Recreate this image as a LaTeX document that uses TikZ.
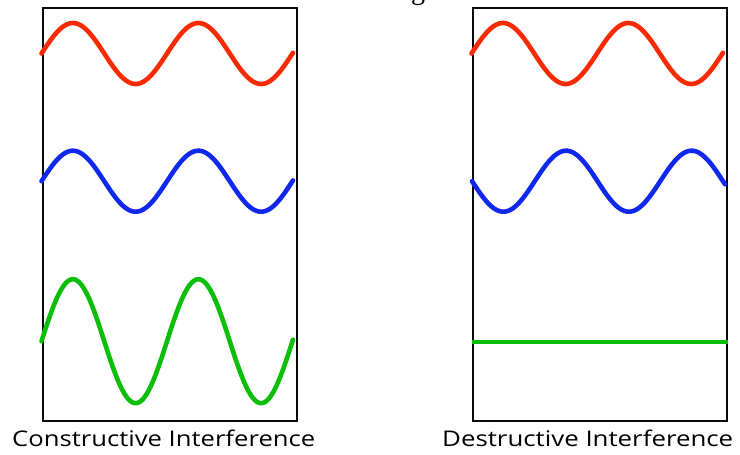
\documentclass[tikz,border=0pt]{standalone}
\usepackage{fontspec}
\setmainfont{Open Sans}
\newfontfamily\serifg{Liberation Serif}
\definecolor{wred}{RGB}{250,42,0}
\definecolor{wblue}{RGB}{16,40,238}
\definecolor{wgreen}{RGB}{10,190,10}
\definecolor{boxc}{RGB}{10,10,10}
\tikzset{
  panel/.style={draw=boxc, line width=1.7pt},
  wave/.style={line width=4.6pt, line cap=round, line join=round},
  lbl/.style={inner sep=0pt, anchor=base west},
}
\begin{document}
\begin{tikzpicture}[x=1pt,y=-1pt]
\useasboundingbox (0,0) rectangle (740,455);
% title fragment (cut off at the top edge, as in the reference)
\node[inner sep=0pt, anchor=base] (title) at (418,-1) {\serifg\fontsize{28}{30}\selectfont g};
% panels
\draw[panel] (43.3,8.3) rectangle (296.7,421.3);
\draw[panel] (473.3,8.3) rectangle (726.7,421.3);
% left waves
\draw[wave, wred] plot[domain=41.5:293, samples=120] (\x, {53.5 - 30.5*sin((\x-41.5)/125.5*360)});
\draw[wave, wblue] plot[domain=41.5:293, samples=120] (\x, {181.2 - 30.5*sin((\x-41.5)/125.5*360)});
\draw[wave, wgreen] plot[domain=41.5:293, samples=120] (\x, {341.2 - 62*sin((\x-41.5)/125.5*360)});
% right waves
\draw[wave, wred] plot[domain=471.5:723, samples=120] (\x, {53.5 - 30.5*sin((\x-471.5)/125.5*360)});
\draw[wave, wblue] plot[domain=472:725, samples=120] (\x, {181.2 + 30.5*sin((\x-472)/125.5*360)});
\draw[line width=4pt, wgreen] (471.7,342.3) -- (728.3,342.3);
% labels
\node[lbl] (cons) at (12,446) {\resizebox{303pt}{16.5pt}{Constructive Interference}};
\node[lbl] (dest) at (442,446) {\resizebox{291pt}{16.5pt}{Destructive Interference}};
\end{tikzpicture}
\end{document}
